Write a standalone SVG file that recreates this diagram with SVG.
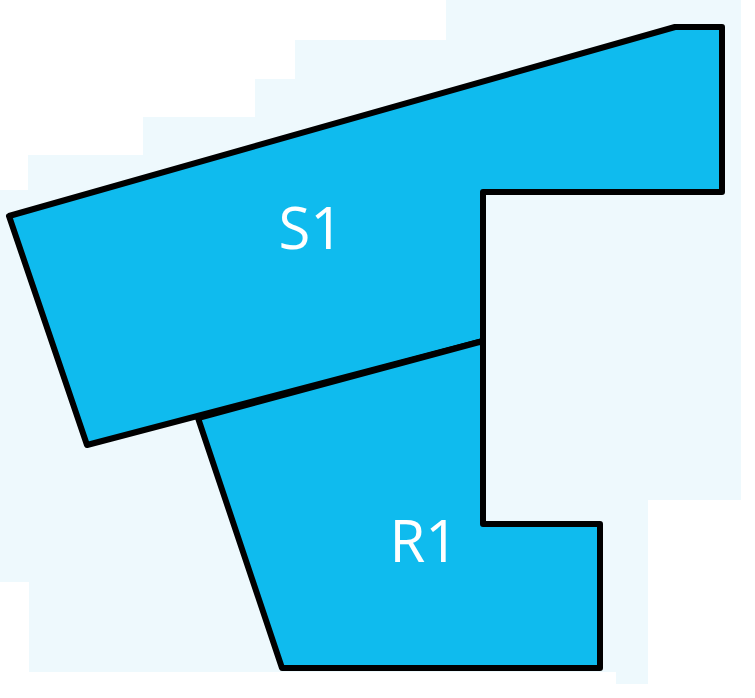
<svg xmlns="http://www.w3.org/2000/svg" width="755" height="698" viewBox="0 0 755 698">
  <style>
    .bg { fill: #EEF9FD; stroke: none; }
    .region { fill: #0FBBEE; stroke: #000000; stroke-width: 6; stroke-linejoin: round; }
    .label { font-family: "Open Sans", "Noto Sans", "DejaVu Sans", sans-serif; font-size: 58px; fill: #FFFFFF; text-anchor: middle; }
  </style>
  <rect x="0" y="0" width="755" height="698" fill="#FFFFFF"/>
  <g id="background">
    <path class="bg" d="M333,40 H446 V0 H741 V500 H648 V684 H616 V672 H29 V582 H0 V190 H28 V155 H143 V117 H255 V79 H295 V40 Z"/>
  </g>
  <g id="S1">
    <polygon class="region" points="9,216 675,27 722,27 722,192 483,192 483,341 87,445"/>
    <text class="label" x="311" y="249">S1</text>
  </g>
  <g id="R1">
    <polygon class="region" points="198,418 483,341 483,524 600,524 600,668 282,668"/>
    <text class="label" x="424" y="562">R1</text>
  </g>
  <g id="connectors"></g>
</svg>
